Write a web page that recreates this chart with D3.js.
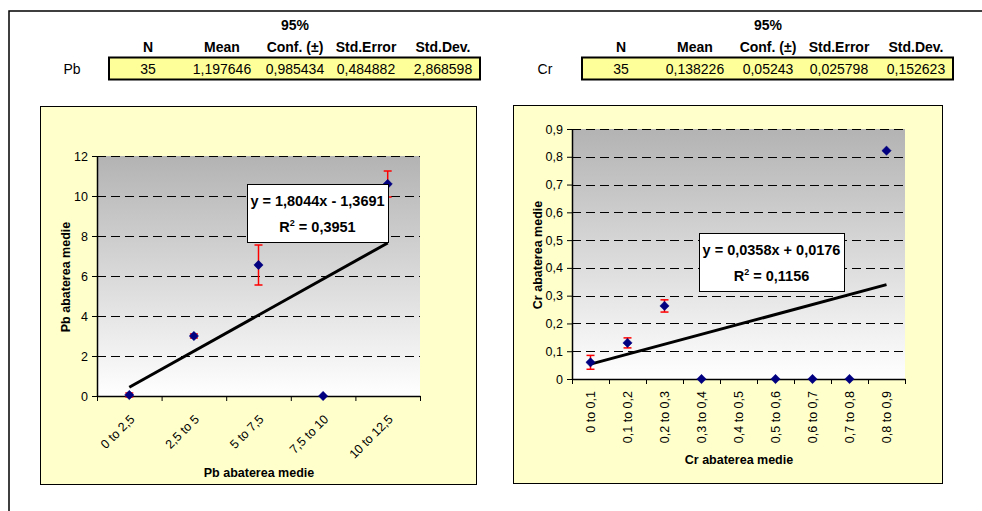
<!DOCTYPE html>
<html>
<head>
<meta charset="utf-8">
<script src="https://cdn.jsdelivr.net/npm/d3@7"></script>
<style>
  body { margin: 0; background: #fff; }
  svg { font-family: "Liberation Sans", Arial, sans-serif; }
  .hdr { font-weight: bold; font-size: 14px; }
  .val { font-size: 14px; }
  .tick text { font-size: 12.5px; fill: #000; }
  .title { font-weight: bold; font-size: 12.5px; }
  .eq { font-weight: bold; font-size: 14.5px; }
</style>
</head>
<body>
<script>
// summary tables
const statHeaders = ['N', 'Mean', 'Conf. (\u00b1)', 'Std.Error', 'Std.Dev.'];
const pbStats = ['35', '1,197646', '0,985434', '0,484882', '2,868598'];
const crStats = ['35', '0,138226', '0,05243', '0,025798', '0,152623'];

// Pb chart
const pbCats = ['0 to 2,5', '2,5 to 5', '5 to 7,5', '7,5 to 10', '10 to 12,5'];
const pbVals = [0.05, 3.0, 6.55, 0, 10.6];
const pbErr = [0.1, 0.1, 1.0, 0, 0.65];
const pbTrend = [1.8044, -1.3691];

// Cr chart
const crCats = ['0 to 0,1', '0,1 to 0,2', '0,2 to 0,3', '0,3 to 0,4', '0,4 to 0,5',
                '0,5 to 0,6', '0,6 to 0,7', '0,7 to 0,8', '0,8 to 0,9'];
const crVals = [0.06, 0.13, 0.263, 0, null, 0, 0, 0, 0.822];
const crErr = [0.025, 0.018, 0.022, 0, 0, 0, 0, 0, 0];
const crTrend = [0.0358, 0.0176];

const width = 982, height = 511;
const svg = d3.select('body').append('svg')
  .attr('width', width)
  .attr('height', height);

// outer frame (top + left)
svg.append('path')
  .attr('d', 'M9,511 L9,11 L982,11')
  .attr('fill', 'none')
  .attr('stroke', '#000')
  .attr('stroke-width', 1.5);

const defs = svg.append('defs');
const grad = defs.append('linearGradient')
  .attr('id', 'plotbg')
  .attr('x1', 0).attr('y1', 0).attr('x2', 0).attr('y2', 1);
grad.append('stop').attr('offset', '0%').attr('stop-color', '#b3b3b3');
grad.append('stop').attr('offset', '100%').attr('stop-color', '#ffffff');

function drawTable(x0, label, values) {
  const colX = [38, 112, 185, 256, 333].map(d => x0 + d);
  const g = svg.append('g');
  g.append('text').attr('class', 'hdr')
    .attr('x', colX[2]).attr('y', 30)
    .attr('text-anchor', 'middle').text('95%');
  g.selectAll('.h').data(statHeaders).enter().append('text')
    .attr('class', 'hdr')
    .attr('x', (d, i) => colX[i]).attr('y', 52)
    .attr('text-anchor', 'middle').text(d => d);
  g.append('rect')
    .attr('x', x0 - 1).attr('y', 57.5)
    .attr('width', 371).attr('height', 22)
    .attr('fill', '#ffff99')
    .attr('stroke', '#000').attr('stroke-width', 2);
  g.append('text').attr('class', 'val')
    .attr('x', x0 - 38).attr('y', 74)
    .attr('text-anchor', 'middle').text(label);
  g.selectAll('.v').data(values).enter().append('text')
    .attr('class', 'val')
    .attr('x', (d, i) => colX[i]).attr('y', 74)
    .attr('text-anchor', 'middle').text(d => d);
}

drawTable(110, 'Pb', pbStats);
drawTable(583, 'Cr', crStats);

function drawChart(o) {
  const g = svg.append('g');
  g.append('rect')
    .attr('x', o.box[0] + 0.5).attr('y', o.box[1] + 0.5)
    .attr('width', o.box[2]).attr('height', o.box[3])
    .attr('fill', '#ffffcc')
    .attr('stroke', '#000').attr('stroke-width', 1);

  const [px0, py0, px1, py1] = o.plot;
  const n = o.cats.length;
  const xLin = d3.scaleLinear().domain([0, n]).range([px0, px1]);
  const xBand = d3.scaleBand().domain(o.cats).range([px0, px1]).padding(0);
  const y = d3.scaleLinear().domain([0, o.ymax]).range([py1, py0]);

  g.append('rect')
    .attr('x', px0).attr('y', py0)
    .attr('width', px1 - px0).attr('height', py1 - py0)
    .attr('fill', 'url(#plotbg)');

  // gridlines
  g.selectAll('.grid').data(o.yticks.filter(d => d > 0)).enter().append('line')
    .attr('x1', px0).attr('x2', px1)
    .attr('y1', d => Math.round(y(d)) + 0.5).attr('y2', d => Math.round(y(d)) + 0.5)
    .attr('stroke', '#000').attr('stroke-width', 1)
    .attr('stroke-dasharray', '9,5');

  // y axis
  const yAxis = d3.axisLeft(y).tickValues(o.yticks).tickFormat(o.yfmt)
    .tickSize(5).tickSizeOuter(0).tickPadding(4);
  g.append('g').attr('transform', `translate(${px0},0)`).call(yAxis)
    .call(a => a.selectAll('path, line').attr('stroke', '#000'))
    .call(a => a.select('.domain').attr('stroke-width', 1.5));

  // x axis with ticks between categories
  const xAxis = d3.axisBottom(xLin).tickValues(d3.range(n + 1)).tickFormat('')
    .tickSize(5).tickSizeOuter(0);
  g.append('g').attr('transform', `translate(0,${py1})`).call(xAxis)
    .call(a => a.selectAll('path, line').attr('stroke', '#000'))
    .call(a => a.select('.domain').attr('stroke-width', 1.5));

  // category labels
  g.selectAll('.xl').data(o.cats).enter().append('text')
    .attr('font-size', 12.5)
    .attr('text-anchor', 'end')
    .attr('transform', d => `translate(${xBand(d) + xBand.bandwidth() / 2 + o.lblDx},${py1 + o.lblDy}) rotate(${o.rot})`)
    .text(d => d);

  // axis titles
  g.append('text').attr('class', 'title')
    .attr('x', o.xTitle[0]).attr('y', o.xTitle[1])
    .attr('text-anchor', 'middle').text(o.title);
  g.append('text').attr('class', 'title')
    .attr('transform', `translate(${o.yTitle[0]},${o.yTitle[1]}) rotate(-90)`)
    .attr('text-anchor', 'middle').text(o.title);

  const pts = o.cats.map((c, i) => ({ c, v: o.vals[i], e: o.err[i] }))
    .filter(d => d.v !== null);
  const cx = d => xBand(d.c) + xBand.bandwidth() / 2;

  // error bars
  const eb = g.selectAll('.eb').data(pts.filter(d => d.e > 0)).enter().append('g')
    .attr('stroke', '#ff0000').attr('stroke-width', 1.5);
  eb.append('line')
    .attr('x1', cx).attr('x2', cx)
    .attr('y1', d => y(d.v - d.e)).attr('y2', d => y(d.v + d.e));
  eb.append('line')
    .attr('x1', d => cx(d) - 4).attr('x2', d => cx(d) + 4)
    .attr('y1', d => y(d.v - d.e)).attr('y2', d => y(d.v - d.e));
  eb.append('line')
    .attr('x1', d => cx(d) - 4).attr('x2', d => cx(d) + 4)
    .attr('y1', d => y(d.v + d.e)).attr('y2', d => y(d.v + d.e));

  // trendline (from the stated regression on category index)
  const t = [1, n].map(i => ({ x: xLin(i - 0.5), y: y(o.trend[0] * i + o.trend[1]) }));
  g.append('line')
    .attr('x1', t[0].x).attr('y1', t[0].y)
    .attr('x2', t[1].x).attr('y2', t[1].y)
    .attr('stroke', '#000').attr('stroke-width', 3);

  // markers
  g.selectAll('.pt').data(pts).enter().append('path')
    .attr('d', d3.symbol(d3.symbolDiamond2, 55))
    .attr('transform', d => `translate(${cx(d)},${y(d.v)})`)
    .attr('fill', '#000080')
    .attr('stroke', '#000080').attr('stroke-width', 0.5);

  // equation box
  const [bx, by, bw, bh] = o.eqBox;
  g.append('rect')
    .attr('x', bx + 0.5).attr('y', by + 0.5)
    .attr('width', bw).attr('height', bh)
    .attr('fill', '#fff').attr('stroke', '#000').attr('stroke-width', 1);
  g.append('text').attr('class', 'eq')
    .attr('x', bx + bw / 2).attr('y', by + 22)
    .attr('text-anchor', 'middle').text(o.eq);
  const r = g.append('text').attr('class', 'eq')
    .attr('x', bx + bw / 2).attr('y', by + 48)
    .attr('text-anchor', 'middle');
  r.append('tspan').text('R');
  r.append('tspan').attr('font-size', 9).attr('dy', -6).text('2');
  r.append('tspan').attr('dy', 6).text(' = ' + o.r2);
}

drawChart({
  box: [40, 106, 436, 378],
  plot: [97, 156, 420, 396],
  cats: pbCats, vals: pbVals, err: pbErr, trend: pbTrend,
  ymax: 12, yticks: d3.range(0, 13, 2), yfmt: d3.format('d'),
  rot: -45, lblDx: 6, lblDy: 24,
  title: 'Pb abaterea medie',
  xTitle: [259, 477], yTitle: [70, 277],
  eqBox: [247, 184, 141, 58],
  eq: 'y = 1,8044x - 1,3691', r2: '0,3951'
});

drawChart({
  box: [513, 105, 429, 378],
  plot: [572, 129, 905, 379],
  cats: crCats, vals: crVals, err: crErr, trend: crTrend,
  ymax: 0.9, yticks: d3.range(0, 10).map(d => d / 10),
  yfmt: d => d === 0 ? '0' : d3.format('.1f')(d).replace('.', ','),
  rot: -90, lblDx: 4, lblDy: 12,
  title: 'Cr abaterea medie',
  xTitle: [739, 464], yTitle: [542, 255],
  eqBox: [699, 233, 145, 58],
  eq: 'y = 0,0358x + 0,0176', r2: '0,1156'
});
</script>
</body>
</html>
